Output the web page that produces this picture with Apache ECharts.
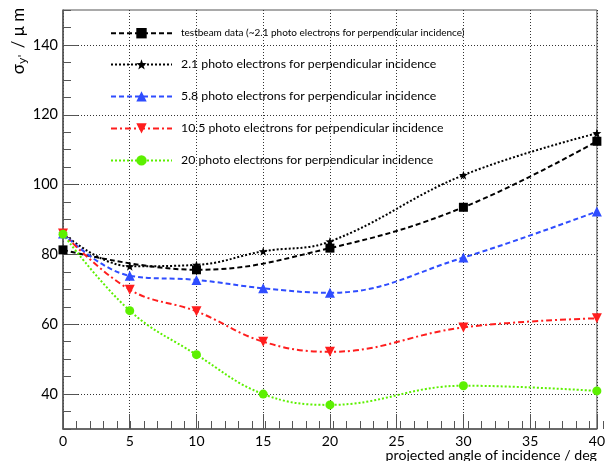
<!DOCTYPE html>
<html>
<head>
<meta charset="utf-8">
<script src="https://cdn.jsdelivr.net/npm/echarts@6/dist/echarts.min.js"></script>
<style>
  html, body { margin: 0; padding: 0; background: #fff; }
  #chart { width: 608px; height: 461px; }
</style>
</head>
<body>
<div id="chart"></div>
<script>
// angles where the simulations were evaluated
const angles = [0, 5, 10, 15, 20, 30, 40];
const testbeamAngles = [0, 10, 20, 30, 40];

// sigma_y' in micrometres
const testbeam = [81.3, 75.6, 81.8, 93.5, 112.4];
const pe21 = [86.0, 76.6, 77.0, 80.9, 83.7, 102.7, 114.7];
const pe58 = [86.0, 73.9, 72.7, 70.3, 69.0, 79.1, 92.3];
const pe105 = [86.0, 69.9, 63.7, 55.0, 52.1, 59.1, 61.7];
const pe20 = [85.8, 63.9, 51.3, 40.0, 36.9, 42.4, 40.9];

const yTickLabels = [40, 60, 80, 100, 120, 140];

const names = [
  "testbeam data (~2.1 photo electrons for perpendicular incidence)",
  "2.1 photo electrons for perpendicular incidence",
  "5.8 photo electrons for perpendicular incidence",
  "10.5 photo electrons for perpendicular incidence",
  "20 photo electrons for perpendicular incidence"
];

const FONT = "Lato";
const star = "path://M0,-10L2.35,-3.24L9.51,-3.09L3.8,1.24L5.88,8.09L0,4L-5.88,8.09L-3.8,1.24L-9.51,-3.09L-2.35,-3.24Z";

const pairs = (xs, ys) => xs.map((x, i) => [x, ys[i]]);

const gridPos = { left: 63, right: 5, top: 10, bottom: 32 };
const dotted = { color: "#333", width: 1, type: [1, 2] };

const chart = echarts.init(document.getElementById("chart"));

function lineSeries(name, xs, ys, color, dash, symbol, size, rotate) {
  return {
    name: name,
    type: "line",
    xAxisIndex: 0,
    yAxisIndex: 0,
    data: pairs(xs, ys),
    smooth: 0.4,
    symbol: symbol,
    symbolSize: size,
    symbolRotate: rotate || 0,
    showAllSymbol: true,
    itemStyle: { color: color },
    lineStyle: { color: color, width: 2, type: dash }
  };
}

const option = {
  animation: false,
  grid: [
    Object.assign({ show: true, borderColor: "#555", borderWidth: 1 }, gridPos),
    Object.assign({}, gridPos)
  ],
  xAxis: [
    {
      type: "value",
      gridIndex: 0,
      min: 0,
      max: 40,
      interval: 5,
      axisLine: { lineStyle: { color: "#555", width: 1.5 } },
      axisTick: { inside: true, length: 15, lineStyle: { color: "#555" } },
      axisLabel: { color: "#000", fontFamily: FONT, fontSize: 14, margin: 5 },
      splitLine: { show: true, lineStyle: dotted }
    },
    {
      // minor ticks
      type: "value",
      gridIndex: 1,
      min: 0,
      max: 40,
      interval: 1,
      axisLine: { show: false },
      axisTick: { inside: true, length: 8, lineStyle: { color: "#555" } },
      axisLabel: { show: false },
      splitLine: { show: false }
    }
  ],
  yAxis: [
    {
      type: "value",
      gridIndex: 0,
      min: 30,
      max: 150,
      interval: 10,
      axisLine: { show: true, lineStyle: { color: "#555", width: 1.5 } },
      axisTick: { inside: true, length: 15, customValues: yTickLabels, lineStyle: { color: "#555" } },
      axisLabel: { customValues: yTickLabels, color: "#000", fontFamily: FONT, fontSize: 14.5, margin: 5 },
      splitLine: { show: true, lineStyle: dotted }
    },
    {
      type: "value",
      gridIndex: 1,
      min: 30,
      max: 150,
      interval: 5,
      axisLine: { show: false },
      axisTick: { inside: true, length: 8, lineStyle: { color: "#555" } },
      axisLabel: { show: false },
      splitLine: { show: false }
    }
  ],
  legend: {
    orient: "vertical",
    left: 105,
    top: 23,
    itemWidth: 61,
    itemHeight: 13,
    itemGap: 20,
    data: names,
    formatter: function (n) {
      return n === names[0] ? "{s|" + n + "}" : n;
    },
    textStyle: {
      color: "#000",
      fontFamily: FONT,
      fontSize: 12.3,
      padding: [0, 0, 0, 4],
      rich: { s: { fontFamily: FONT, fontSize: 10, color: "#000" } }
    }
  },
  graphic: [
    {
      type: "text",
      x: 19,
      y: 41,
      rotation: Math.PI / 2,
      style: {
        text: "{a|σ}{b|y'}{a| / μ m}",
        align: "center",
        verticalAlign: "middle",
        rich: {
          a: { fontFamily: FONT, fontSize: 17, fill: "#000", lineHeight: 20 },
          b: { fontFamily: "DejaVu Sans", fontSize: 11, fill: "#000", verticalAlign: "bottom", padding: [7, 2, 0, 0] }
        }
      }
    },
    {
      type: "text",
      x: 597,
      y: 455,
      style: {
        text: "projected angle of incidence / deg",
        align: "right",
        verticalAlign: "middle",
        fontFamily: FONT,
        fontSize: 14.2,
        fill: "#000"
      }
    }
  ],
  series: [
    lineSeries(names[0], testbeamAngles, testbeam, "#000", [5, 3], "rect", 9),
    lineSeries(names[1], angles, pe21, "#000", [2, 2], star, 9),
    lineSeries(names[2], angles, pe58, "#2f4dff", [5, 3], "triangle", 10),
    lineSeries(names[3], angles, pe105, "#ff1e1e", [6, 3, 2, 3], "triangle", 10, 180),
    lineSeries(names[4], angles, pe20, "#5cf000", [2, 2], "circle", 9)
  ]
};

chart.setOption(option);
</script>
</body>
</html>
